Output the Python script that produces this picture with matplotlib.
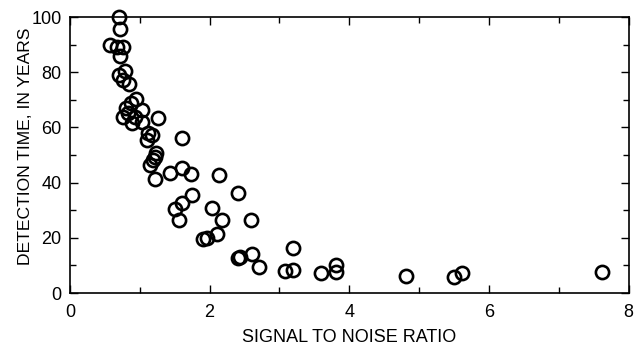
import matplotlib
matplotlib.use("Agg")
import matplotlib.pyplot as plt
from matplotlib.ticker import MultipleLocator

plt.rcParams['font.family'] = ['Liberation Sans', 'DejaVu Sans']

snr = [0.70, 0.72, 0.57, 0.68, 0.76, 0.72, 0.79, 0.70, 0.76, 0.84,
       0.94, 0.88, 0.80, 1.03, 0.83, 0.76, 0.93, 1.03, 0.89, 1.26,
       1.12, 1.17, 1.10, 1.60, 1.24, 1.22, 1.19, 1.15, 1.22, 1.43,
       1.61, 1.74, 2.14, 2.41, 1.75, 1.61, 1.50, 1.56, 2.03, 2.18,
       2.60, 1.91, 1.96, 2.11, 2.41, 2.44, 2.61, 2.71, 3.20, 3.08,
       3.20, 3.60, 3.81, 3.81, 4.81, 5.50, 5.62, 7.62]
years = [100.0, 95.6, 89.9, 89.2, 89.2, 86.0, 80.4, 79.0, 77.2, 75.6,
         70.2, 68.7, 66.9, 66.3, 65.1, 63.9, 63.9, 62.1, 61.5, 63.3,
         57.9, 57.2, 55.4, 56.2, 50.6, 49.4, 48.2, 46.4, 41.3, 43.5,
         45.4, 43.2, 42.8, 36.3, 35.4, 32.5, 30.3, 26.4, 30.7, 26.4,
         26.4, 19.4, 19.8, 21.3, 12.8, 13.2, 14.0, 9.5, 16.4, 8.0,
         8.3, 7.4, 10.0, 7.7, 6.3, 5.7, 7.4, 7.7]

x_ticks = [0, 2, 4, 6, 8]
y_ticks = [0, 20, 40, 60, 80, 100]

fig = plt.figure(figsize=(6.35, 3.48), dpi=100)
ax = fig.add_axes([0.110, 0.158, 0.880, 0.793])

ax.plot(snr, years, linestyle='none', marker='o', markersize=9.5,
        markerfacecolor='none', markeredgecolor='black', markeredgewidth=1.9,
        clip_on=False, zorder=3)

ax.set_xlim(0, 8)
ax.set_ylim(0, 100)
ax.set_xticks(x_ticks)
ax.set_yticks(y_ticks)
ax.xaxis.set_minor_locator(MultipleLocator(1))
ax.yaxis.set_minor_locator(MultipleLocator(10))
ax.tick_params(which='both', direction='in', top=True, right=True,
               width=1.0, labelsize=13, colors='black')
ax.tick_params(which='major', length=6)
ax.tick_params(axis='x', which='major', pad=8)
ax.tick_params(axis='y', which='major', pad=6)
ax.tick_params(which='minor', length=4)
for s in ax.spines.values():
    s.set_linewidth(1.2)

ax.set_xlabel('SIGNAL TO NOISE RATIO', fontsize=13)
ax.xaxis.set_label_coords(0.5, -0.132)
ax.set_ylabel('DETECTION TIME, IN YEARS', fontsize=12.6)
ax.yaxis.set_label_coords(-0.066, 0.533)

fig.savefig('out.png', dpi=100, facecolor='white')
